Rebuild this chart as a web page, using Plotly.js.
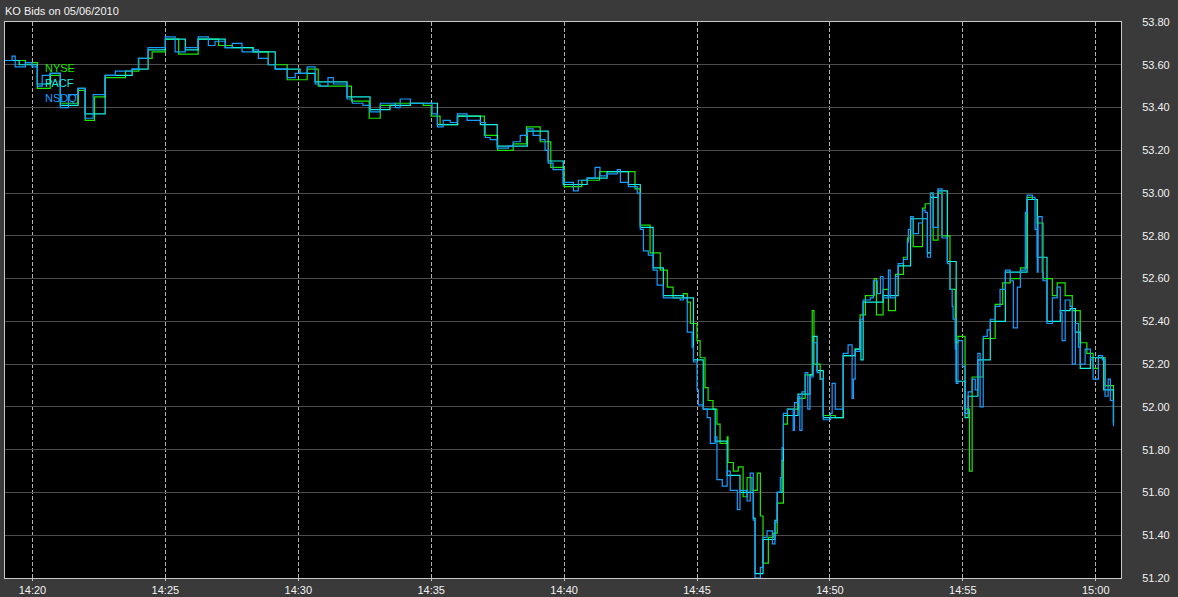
<!DOCTYPE html>
<html><head><meta charset="utf-8">
<script src="https://cdn.plot.ly/plotly-3.0.1.min.js"></script>
<style>html,body{margin:0;padding:0;background:#3a3a3a;}#chart{width:1178px;height:597px;}</style>
</head><body><div id="chart"></div>
<script>
const tradeDate = '2010-05-06';
const chartTitle = 'KO Bids on 05/06/2010';
const seriesNames = ['NYSE', 'PACF', 'NSDQ'];
const seriesColors = ['#1ee600', '#14f0e6', '#1a9cff'];

const nsdqTime = ['14:18:58','14:19:14','14:19:21','14:19:44','14:19:59','14:20:11','14:20:22','14:20:40','14:21:03','14:21:21','14:21:43','14:21:59','14:22:17','14:22:44','14:23:07','14:23:45','14:23:59','14:24:21','14:24:44','14:25:00','14:25:22','14:25:45','14:26:14','14:26:37','14:26:52','14:27:15','14:27:31','14:27:53','14:28:18','14:28:30','14:28:52','14:29:08','14:29:35','14:29:53','14:30:04','14:30:20','14:30:38','14:30:49','14:31:07','14:31:19','14:31:35','14:31:50','14:32:02','14:32:26','14:32:42','14:33:05','14:33:27','14:33:39','14:33:50','14:34:13','14:34:42','14:35:02','14:35:14','14:35:27','14:35:43','14:35:59','14:36:21','14:36:51','14:37:02','14:37:13','14:37:29','14:37:54','14:38:05','14:38:21','14:38:37','14:38:50','14:39:06','14:39:17','14:39:24','14:39:35','14:39:58','14:40:21','14:40:32','14:40:52','14:41:10','14:41:21','14:41:37','14:42:00','14:42:07','14:42:25','14:42:36','14:42:45','14:42:52','14:42:59','14:43:10','14:43:21','14:43:30','14:43:44','14:43:59','14:44:22','14:44:29','14:44:38','14:44:49','14:44:52','14:45:00','14:45:03','14:45:14','14:45:23','14:45:30','14:45:41','14:45:45','14:45:57','14:46:08','14:46:15','14:46:31','14:46:37','14:46:53','14:47:00','14:47:07','14:47:11','14:47:23','14:47:29','14:47:38','14:47:50','14:47:56','14:48:01','14:48:08','14:48:12','14:48:15','14:48:24','14:48:37','14:48:40','14:48:48','14:48:52','14:48:57','14:49:04','14:49:10','14:49:15','14:49:22','14:49:31','14:49:38','14:49:45','14:50:01','14:50:05','14:50:12','14:50:28','14:50:30','14:50:41','14:50:50','14:50:53','14:50:57','14:51:08','14:51:15','14:51:31','14:51:38','14:51:47','14:51:54','14:52:00','14:52:12','14:52:16','14:52:28','14:52:34','14:52:46','14:52:55','14:52:57','14:53:02','14:53:08','14:53:20','14:53:29','14:53:35','14:53:40','14:53:47','14:53:53','14:54:04','14:54:13','14:54:25','14:54:31','14:54:36','14:54:38','14:54:43','14:54:45','14:54:49','14:54:59','14:55:05','14:55:12','14:55:21','14:55:28','14:55:34','14:55:39','14:55:46','14:55:55','14:56:02','14:56:13','14:56:24','14:56:36','14:56:47','14:56:54','14:57:03','14:57:10','14:57:21','14:57:25','14:57:37','14:57:43','14:57:48','14:57:50','14:57:59','14:58:01','14:58:10','14:58:22','14:58:33','14:58:40','14:58:44','14:58:51','14:59:02','14:59:07','14:59:14','14:59:21','14:59:25','14:59:36','14:59:48','14:59:54','15:00:06','15:00:15','15:00:21','15:00:28','15:00:33','15:00:40'];
const nsdqBid = [53.62,53.64,53.59,53.61,53.59,53.50,53.55,53.56,53.40,53.46,53.49,53.35,53.46,53.55,53.57,53.58,53.63,53.68,53.68,53.73,53.66,53.68,53.73,53.69,53.71,53.68,53.70,53.66,53.67,53.63,53.60,53.58,53.54,53.56,53.56,53.59,53.51,53.50,53.54,53.51,53.51,53.44,53.42,53.41,53.38,53.42,53.42,53.40,53.44,53.42,53.42,53.37,53.31,53.34,53.33,53.37,53.34,53.33,53.26,53.25,53.21,53.22,53.24,53.27,53.30,53.27,53.25,53.20,53.14,53.11,53.05,53.01,53.06,53.07,53.12,53.08,53.09,53.11,53.05,53.03,53.03,53.00,52.83,52.73,52.71,52.64,52.57,52.51,52.51,52.50,52.51,52.35,52.28,52.21,52.08,52.01,51.99,51.95,51.83,51.86,51.66,51.63,51.70,51.61,51.52,51.61,51.56,51.69,51.47,51.20,51.25,51.39,51.42,51.36,51.46,51.60,51.67,51.81,51.97,51.99,51.89,52.02,52.05,51.89,52.07,52.16,51.99,52.14,52.30,52.16,52.13,51.94,51.97,52.11,51.99,51.99,52.25,52.29,52.04,52.13,52.26,52.41,52.50,52.51,52.59,52.53,52.61,52.51,52.64,52.51,52.61,52.67,52.69,52.77,52.83,52.89,52.81,52.86,52.92,52.91,52.70,53.00,52.84,53.02,52.79,52.67,52.55,52.47,52.41,52.27,52.11,52.31,52.19,51.97,52.07,52.13,52.08,52.25,52.00,52.33,52.36,52.41,52.47,52.55,52.64,52.59,52.37,52.56,52.64,52.91,52.99,52.98,52.83,52.63,52.89,52.63,52.59,52.39,52.51,52.56,52.44,52.31,52.50,52.47,52.20,52.39,52.28,52.20,52.27,52.22,52.13,52.24,52.22,52.05,52.13,52.03,51.91];

const nyseTime = ['14:18:58','14:19:44','14:20:11','14:20:40','14:21:03','14:21:43','14:21:59','14:22:20','14:22:44','14:23:30','14:24:00','14:24:30','14:25:00','14:25:30','14:26:14','14:27:00','14:27:31','14:28:18','14:28:52','14:29:35','14:30:20','14:30:45','14:31:35','14:32:00','14:32:40','14:33:05','14:33:39','14:34:42','14:35:00','14:35:20','14:36:00','14:37:00','14:37:30','14:38:05','14:38:35','14:39:06','14:39:30','14:40:00','14:40:40','14:41:20','14:42:00','14:42:40','14:42:52','14:43:14','14:43:37','14:43:53','14:44:06','14:44:29','14:44:38','14:44:45','14:45:00','14:45:07','14:45:18','14:45:25','14:45:36','14:45:45','14:45:52','14:46:08','14:46:10','14:46:22','14:46:33','14:46:44','14:46:53','14:47:04','14:47:16','14:47:23','14:47:29','14:47:41','14:47:52','14:48:01','14:48:15','14:48:24','14:48:48','14:49:04','14:49:20','14:49:24','14:49:38','14:49:45','14:50:12','14:50:30','14:50:57','14:51:08','14:51:20','14:51:40','14:51:45','14:52:00','14:52:12','14:52:28','14:52:46','14:52:55','14:53:02','14:53:08','14:53:29','14:53:35','14:53:47','14:53:53','14:54:04','14:54:13','14:54:31','14:54:43','14:54:49','14:55:05','14:55:15','14:55:21','14:55:46','14:56:13','14:56:30','14:56:47','14:57:10','14:57:25','14:57:37','14:57:48','14:58:01','14:58:22','14:58:33','14:58:51','14:59:07','14:59:25','14:59:40','14:59:54','15:00:06','15:00:21','15:00:40'];
const nyseBid = [53.62,53.61,53.49,53.55,53.42,53.48,53.34,53.45,53.54,53.57,53.63,53.66,53.72,53.65,53.72,53.69,53.68,53.66,53.60,53.53,53.58,53.50,53.50,53.43,53.35,53.41,53.42,53.41,53.36,53.32,53.36,53.27,53.20,53.23,53.31,53.24,53.12,53.03,53.06,53.10,53.10,53.02,52.85,52.72,52.64,52.56,52.51,52.53,52.49,52.39,52.31,52.23,52.09,52.03,51.99,51.92,51.83,51.86,51.74,51.70,51.72,51.58,51.67,51.61,51.69,51.49,51.27,51.39,51.41,51.55,51.92,51.99,52.04,52.15,52.45,52.20,52.13,51.96,51.95,52.24,52.27,52.43,52.52,52.60,52.43,52.55,52.45,52.62,52.70,52.79,52.88,52.75,52.93,52.95,53.00,52.78,53.00,52.80,52.55,52.30,52.33,51.99,51.70,52.14,52.32,52.48,52.58,52.60,52.65,52.98,52.97,52.86,52.60,52.52,52.58,52.52,52.45,52.30,52.25,52.18,52.23,52.10,51.93];

const pacfTime = ['14:18:58','14:19:30','14:20:11','14:20:40','14:21:03','14:21:43','14:21:59','14:22:44','14:23:45','14:24:21','14:25:00','14:25:45','14:26:14','14:27:15','14:28:18','14:29:08','14:30:04','14:30:38','14:31:50','14:32:42','14:33:27','14:34:13','14:35:14','14:35:59','14:36:51','14:37:29','14:38:37','14:39:24','14:39:58','14:40:52','14:41:37','14:42:25','14:42:52','14:43:21','14:43:44','14:44:29','14:44:52','14:45:14','14:45:41','14:46:08','14:46:37','14:47:07','14:47:11','14:47:29','14:47:56','14:48:01','14:48:12','14:48:15','14:48:48','14:49:15','14:49:22','14:49:31','14:49:45','14:50:30','14:50:57','14:51:08','14:51:10','14:51:15','14:52:00','14:52:34','14:53:02','14:53:40','14:53:47','14:54:04','14:54:25','14:54:45','14:55:05','14:55:12','14:55:34','14:56:02','14:56:36','14:57:25','14:57:48','14:58:10','14:58:40','14:59:02','14:59:14','14:59:25','14:59:48','15:00:18','15:00:40'];
const pacfBid = [53.62,53.60,53.51,53.56,53.41,53.49,53.37,53.55,53.58,53.67,53.72,53.67,53.72,53.68,53.66,53.58,53.56,53.52,53.45,53.39,53.41,53.42,53.32,53.36,53.32,53.22,53.29,53.15,53.04,53.07,53.10,53.04,52.84,52.65,52.52,52.51,52.22,51.99,51.84,51.68,51.60,51.48,51.22,51.38,51.47,51.60,51.75,51.96,52.06,52.15,52.33,52.17,51.95,52.24,52.27,52.40,52.22,52.49,52.52,52.66,52.88,52.72,52.98,53.01,52.68,52.12,51.95,52.05,52.22,52.40,52.63,52.97,52.70,52.40,52.45,52.46,52.35,52.18,52.23,52.08,51.92];

const xTickLabels = ['14:20','14:25','14:30','14:35','14:40','14:45','14:50','14:55','15:00'];
const yTickValues = [51.2,51.4,51.6,51.8,52.0,52.2,52.4,52.6,52.8,53.0,53.2,53.4,53.6,53.8];
const xRange = ['14:18:58', '15:00:57'];
const yRange = [51.2, 53.8];

const stamp = t => tradeDate + ' ' + t;
const seriesTimes = [nyseTime, pacfTime, nsdqTime];
const seriesBids = [nyseBid, pacfBid, nsdqBid];

const traces = seriesNames.map((name, i) => ({
  type: 'scatter', mode: 'lines', name: name,
  x: seriesTimes[i].map(stamp), y: seriesBids[i],
  line: {color: seriesColors[i], width: 1.2, shape: 'hv'},
  hoverinfo: 'skip'
}));

const fontFam = '"Liberation Sans", Arial, sans-serif';
const legendY = [0.917, 0.891, 0.863];
const annotations = seriesNames.map((name, i) => ({
  xref: 'paper', yref: 'paper', x: 0.0345, y: legendY[i],
  xanchor: 'left', yanchor: 'middle', showarrow: false, borderpad: 0,
  text: name, font: {family: fontFam, size: 11, color: seriesColors[i]}
}));

const layout = {
  width: 1178, height: 597,
  paper_bgcolor: '#3a3a3a', plot_bgcolor: '#000000',
  margin: {l: 5, r: 57, t: 22, b: 19, pad: 0},
  showlegend: false,
  title: {text: chartTitle, x: 5/1178, xanchor: 'left', xref: 'container',
          y: 1 - 11/597, yanchor: 'middle', yref: 'container',
          font: {family: fontFam, size: 11, color: '#f2f2f2'}},
  xaxis: {
    type: 'date', range: xRange.map(stamp),
    tickvals: xTickLabels.map(t => stamp(t + ':00')), ticktext: xTickLabels,
    showgrid: true, gridcolor: '#b0b0b0', griddash: '4px,2px', gridwidth: 1,
    ticks: 'outside', ticklen: 2, tickcolor: '#c8c8c8',
    showline: true, mirror: true, linecolor: '#c8c8c8', linewidth: 1,
    zeroline: false, fixedrange: true,
    tickfont: {family: fontFam, size: 11, color: '#f2f2f2'}
  },
  yaxis: {
    side: 'right', range: yRange, tickvals: yTickValues, tickformat: '.2f',
    showgrid: true, gridcolor: '#4c4c4c', gridwidth: 1,
    ticks: '', ticklabelstandoff: 18,
    showline: true, mirror: true, linecolor: '#c8c8c8', linewidth: 1,
    zeroline: false, fixedrange: true,
    tickfont: {family: fontFam, size: 11, color: '#f2f2f2'}
  },
  annotations: annotations
};

Plotly.newPlot('chart', traces, layout, {displayModeBar: false, staticPlot: true});
</script>
</body></html>
